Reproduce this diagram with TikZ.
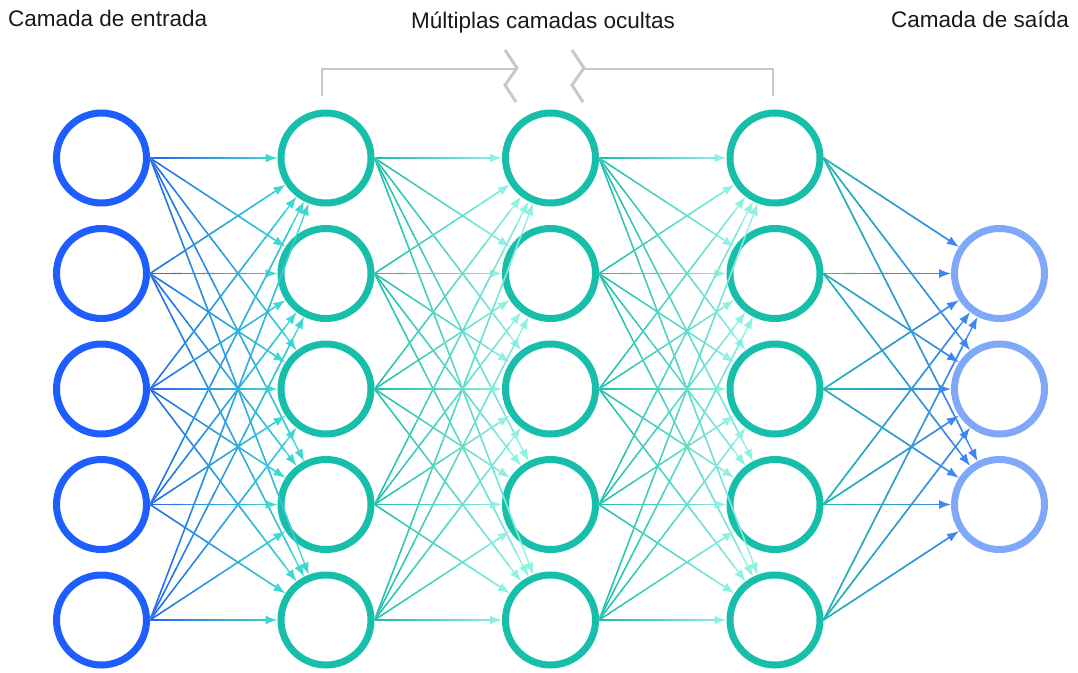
\documentclass[tikz,border=0pt]{standalone}
\usepackage{fontspec}
\setmainfont{Liberation Sans}
\usetikzlibrary{calc,arrows.meta}
\definecolor{inC}{HTML}{1E5EFF}
\definecolor{hidC}{HTML}{17BFAB}
\definecolor{outC}{HTML}{80A8F8}
\definecolor{eBlue}{HTML}{2A62F4}
\definecolor{eCyan}{HTML}{3ED8D2}
\definecolor{eTeal}{HTML}{1DBCA8}
\definecolor{eAqua}{HTML}{90F0E2}
\definecolor{eOutB}{HTML}{3F86F2}
\definecolor{brk}{HTML}{C8C8C8}
\tikzset{
  neuron/.style={circle,minimum size=90pt,inner sep=0pt,line width=7pt,draw=#1},
  edgeline/.style={line width=1.4pt,-{Latex[length=12pt,width=9pt]}},
  segline/.style={line width=1.4pt,line cap=butt},
  lbl/.style={font=\fontsize{22.5}{26}\selectfont,text=black!90,inner sep=0pt},
  brackline/.style={draw=brk,line width=1.8pt},
  zig/.style={draw=brk,line width=3pt,line join=miter}
}
\newcommand\gedge[4]{%
  \path (#1.east) -- (#2) coordinate[pos=0] (s) coordinate[pos=1] (e);
  \draw[edgeline,#4] (s) -- (e);
  \foreach \i in {0,...,10}{%
    \pgfmathtruncatemacro\pp{(\i+0.5)/12*100}%
    \colorlet{segc}{#4!\pp!#3}%
    \draw[segline,segc] ($(s)!{\i/12}!(e)$) -- ($(s)!{(\i+1.05)/12}!(e)$);
  }%
}
\begin{document}
\begin{tikzpicture}[x=1pt,y=-1pt]
\useasboundingbox (0,0) rectangle (1078,672);
% labels
\node[lbl,anchor=base west] (t1) at (8,26) {Camada de entrada};
\node[lbl,anchor=base] (t2) at (543,28) {Múltiplas camadas ocultas};
\node[lbl,anchor=base] (t3) at (980,27) {Camada de saída};
% bracket
\draw[brackline] (322,96) -- (322,69) -- (517,69);
\draw[brackline] (583,69) -- (773,69) -- (773,96);
\draw[zig] (505,50) -- (517,68) -- (505,85) -- (516,102);
\draw[zig] (572,50) -- (584,68) -- (572,85) -- (583,102);
% neurons
\foreach \r/\y in {1/158,2/273.5,3/389,4/504.5,5/620}{
  \node[neuron=inC] (a\r) at (101.5,\y) {};
  \node[neuron=hidC] (b\r) at (326,\y) {};
  \node[neuron=hidC] (c\r) at (550.5,\y) {};
  \node[neuron=hidC] (d\r) at (775,\y) {};
}
\foreach \r/\y in {1/273.5,2/389,3/504.5}{
  \node[neuron=outC] (o\r) at (999.5,\y) {};
}
% edges
\foreach \i in {1,...,5}{
  \foreach \j in {1,...,5}{
    \gedge{a\i}{b\j}{eBlue}{eCyan}
    \gedge{b\i}{c\j}{eTeal}{eAqua}
    \gedge{c\i}{d\j}{eTeal}{eAqua}
  }
  \foreach \j in {1,2,3}{
    \gedge{d\i}{o\j}{eTeal}{eOutB}
  }
}
\end{tikzpicture}
\end{document}
